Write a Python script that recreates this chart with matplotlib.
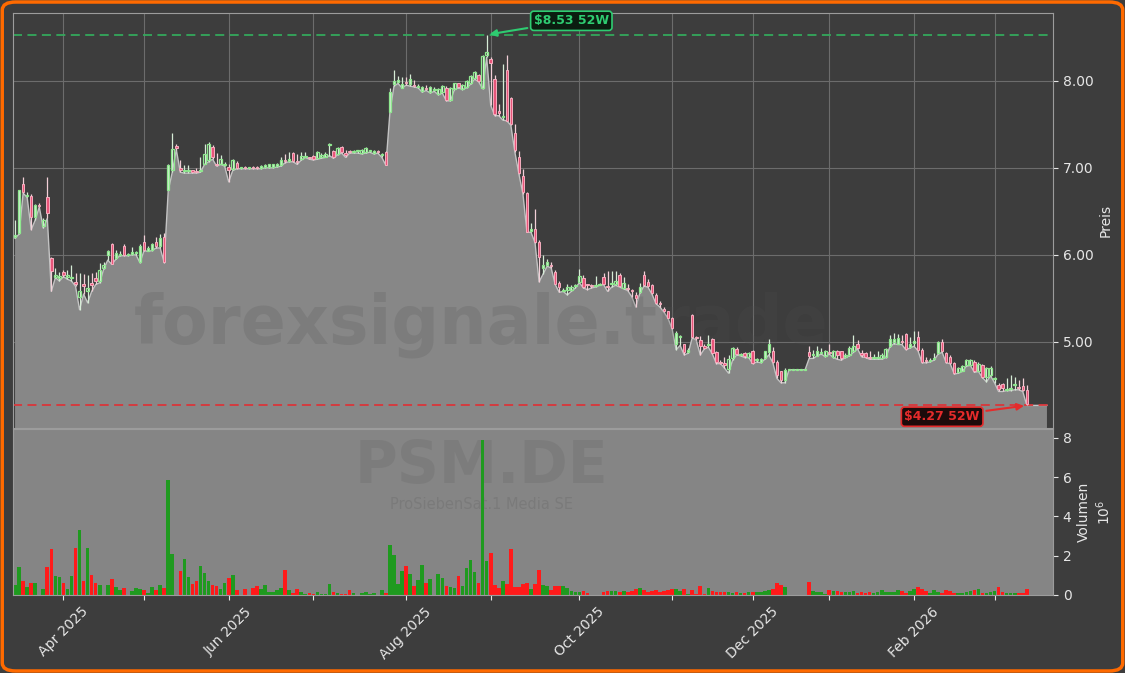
import numpy as np
import pandas as pd
import matplotlib
matplotlib.use('Agg')
import matplotlib.pyplot as plt
from matplotlib.patches import FancyBboxPatch
from matplotlib.ticker import FormatStrFormatter

ticker = 'PSM.DE'
company = 'ProSiebenSat.1 Media SE'
site = 'forexsignale.trade'

# Xetra trading days, Mar 14 2025 .. Mar 12 2026
holidays = ['2025-04-18', '2025-04-21', '2025-05-01', '2025-12-24',
            '2025-12-25', '2025-12-26', '2025-12-31', '2026-01-01']
days = pd.bdate_range('2025-03-14', '2026-03-12')
days = days[~days.isin(pd.to_datetime(holidays))]

opens = [
    6.20, 6.25, 6.82, 6.68, 6.68, 6.44, 6.57, 6.33, 6.66, 5.96,
    5.75, 5.73, 5.80, 5.75, 5.73, 5.69, 5.52, 5.67, 5.58, 5.68,
    5.73, 5.70, 5.85, 6.00, 6.12, 5.96, 6.00, 6.10, 6.00, 6.01,
    6.02, 5.92, 6.15, 6.05, 6.06, 6.15, 6.10, 6.21, 6.74, 6.97,
    7.25, 7.00, 6.96, 6.96, 6.97, 6.96, 6.96, 7.05, 7.09, 7.24,
    7.05, 7.05, 7.03, 7.01, 6.99, 7.06, 7.00, 7.01, 7.00, 7.01,
    7.01, 7.00, 7.01, 7.01, 7.01, 7.02, 7.03, 7.09, 7.08, 7.17,
    7.08, 7.10, 7.13, 7.12, 7.14, 7.11, 7.12, 7.13, 7.26, 7.19,
    7.16, 7.24, 7.17, 7.19, 7.18, 7.19, 7.17, 7.18, 7.19, 7.17,
    7.19, 7.15, 7.18, 7.64, 7.96, 7.99, 7.92, 7.99, 7.96, 7.95,
    7.93, 7.88, 7.92, 7.87, 7.90, 7.85, 7.87, 7.92, 7.78, 7.91,
    7.97, 7.91, 7.93, 7.97, 8.03, 8.07, 7.92, 8.30, 8.25, 8.02,
    7.65, 7.58, 8.13, 7.80, 7.40, 7.13, 6.91, 6.71, 6.28, 6.30,
    6.15, 5.85, 5.88, 5.88, 5.80, 5.68, 5.59, 5.60, 5.60, 5.64,
    5.69, 5.73, 5.66, 5.65, 5.64, 5.65, 5.75, 5.64, 5.66, 5.66,
    5.77, 5.62, 5.62, 5.59, 5.54, 5.57, 5.77, 5.69, 5.65, 5.54,
    5.44, 5.38, 5.35, 5.27, 4.97, 5.06, 4.97, 4.88, 5.31, 5.05,
    5.02, 4.95, 4.96, 5.03, 4.88, 4.77, 4.76, 4.69, 4.81, 4.92,
    4.85, 4.87, 4.83, 4.90, 4.79, 4.77, 4.82, 4.88, 4.89, 4.77,
    4.66, 4.56, 4.68, 4.68, 4.68, 4.68, 4.68, 4.88, 4.85, 4.84,
    4.87, 4.84, 4.88, 4.83, 4.89, 4.89, 4.83, 4.85, 4.89, 4.98,
    4.87, 4.87, 4.83, 4.81, 4.82, 4.81, 4.83, 4.95, 5.00, 4.98,
    5.01, 5.09, 4.94, 4.99, 5.06, 4.91, 4.79, 4.78, 4.80, 4.87,
    5.00, 4.87, 4.83, 4.76, 4.65, 4.67, 4.74, 4.74, 4.77, 4.67,
    4.74, 4.60, 4.62, 4.57, 4.51, 4.52, 4.45, 4.46, 4.50, 4.48,
    4.49, 4.45,
]
highs = [
    6.40, 6.75, 6.89, 6.72, 6.70, 6.59, 6.60, 6.42, 6.89, 5.97,
    5.85, 5.80, 5.83, 5.83, 5.88, 5.79, 5.79, 5.78, 5.77, 5.79,
    5.80, 5.91, 5.92, 6.06, 6.14, 6.06, 6.05, 6.12, 6.02, 6.09,
    6.04, 6.12, 6.23, 6.10, 6.14, 6.20, 6.24, 6.25, 7.05, 7.40,
    7.28, 7.09, 7.03, 7.03, 6.98, 7.00, 7.13, 7.28, 7.30, 7.26,
    7.17, 7.15, 7.07, 7.05, 7.10, 7.08, 7.01, 7.02, 7.01, 7.02,
    7.02, 7.03, 7.04, 7.05, 7.05, 7.06, 7.12, 7.16, 7.18, 7.18,
    7.16, 7.18, 7.18, 7.13, 7.15, 7.19, 7.17, 7.18, 7.29, 7.21,
    7.24, 7.25, 7.20, 7.20, 7.20, 7.20, 7.22, 7.24, 7.20, 7.20,
    7.20, 7.17, 7.19, 7.92, 8.13, 8.06, 8.04, 8.04, 8.08, 8.01,
    7.96, 7.94, 7.95, 7.94, 7.93, 7.92, 7.95, 7.94, 7.93, 7.98,
    7.98, 7.96, 8.01, 8.07, 8.11, 8.08, 8.30, 8.53, 8.27, 8.07,
    7.73, 8.19, 8.30, 7.82, 7.50, 7.19, 6.99, 6.72, 6.37, 6.53,
    6.17, 6.00, 5.95, 5.92, 5.83, 5.70, 5.62, 5.66, 5.65, 5.67,
    5.84, 5.77, 5.67, 5.67, 5.76, 5.68, 5.79, 5.82, 5.82, 5.81,
    5.79, 5.75, 5.67, 5.61, 5.57, 5.68, 5.81, 5.72, 5.67, 5.56,
    5.47, 5.40, 5.36, 5.29, 5.12, 5.08, 4.98, 4.93, 5.32, 5.07,
    5.07, 4.98, 5.08, 5.05, 4.90, 4.79, 4.83, 4.85, 4.94, 4.94,
    4.87, 4.88, 4.88, 4.91, 4.82, 4.81, 4.90, 5.03, 4.94, 4.79,
    4.67, 4.70, 4.68, 4.68, 4.68, 4.68, 4.68, 4.95, 4.91, 4.95,
    4.93, 4.91, 4.98, 4.91, 4.91, 4.90, 4.87, 4.95, 5.08, 5.02,
    4.91, 4.88, 4.89, 4.86, 4.89, 4.87, 4.93, 5.08, 5.10, 5.09,
    5.08, 5.10, 5.06, 5.12, 5.12, 4.93, 4.83, 4.81, 4.87, 5.01,
    5.03, 4.88, 4.85, 4.77, 4.71, 4.73, 4.80, 4.80, 4.79, 4.77,
    4.75, 4.71, 4.72, 4.60, 4.53, 4.53, 4.59, 4.62, 4.60, 4.56,
    4.58, 4.50,
]
lows = [
    6.19, 6.24, 6.71, 6.66, 6.29, 6.40, 6.55, 6.31, 6.42, 5.58,
    5.74, 5.70, 5.75, 5.72, 5.70, 5.64, 5.37, 5.55, 5.45, 5.58,
    5.66, 5.68, 5.84, 5.94, 5.89, 5.95, 5.99, 5.99, 5.99, 6.00,
    6.00, 5.91, 6.05, 6.04, 6.05, 6.08, 6.08, 5.91, 6.74, 6.95,
    7.21, 6.95, 6.94, 6.94, 6.94, 6.94, 6.95, 7.04, 7.07, 7.10,
    7.02, 7.04, 7.02, 6.84, 6.97, 6.99, 6.99, 6.99, 6.99, 6.99,
    6.99, 6.99, 7.00, 7.00, 7.00, 7.01, 7.02, 7.06, 7.07, 7.07,
    7.04, 7.09, 7.12, 7.10, 7.09, 7.10, 7.11, 7.12, 7.14, 7.11,
    7.15, 7.17, 7.12, 7.17, 7.17, 7.17, 7.16, 7.17, 7.18, 7.16,
    7.17, 7.12, 7.03, 7.64, 7.94, 7.97, 7.92, 7.95, 7.94, 7.93,
    7.92, 7.87, 7.89, 7.86, 7.88, 7.84, 7.86, 7.77, 7.77, 7.90,
    7.92, 7.90, 7.92, 7.96, 8.02, 7.99, 7.91, 8.27, 7.72, 7.60,
    7.60, 7.55, 7.54, 7.49, 7.18, 6.93, 6.70, 6.26, 6.26, 6.14,
    5.69, 5.78, 5.87, 5.85, 5.66, 5.57, 5.58, 5.54, 5.58, 5.62,
    5.68, 5.62, 5.60, 5.62, 5.63, 5.65, 5.66, 5.58, 5.63, 5.65,
    5.63, 5.61, 5.59, 5.52, 5.40, 5.56, 5.64, 5.63, 5.55, 5.44,
    5.40, 5.34, 5.27, 5.15, 4.91, 4.96, 4.85, 4.87, 5.05, 5.02,
    4.85, 4.92, 4.94, 4.86, 4.75, 4.75, 4.70, 4.64, 4.79, 4.85,
    4.84, 4.82, 4.82, 4.75, 4.77, 4.76, 4.80, 4.85, 4.76, 4.58,
    4.53, 4.53, 4.68, 4.68, 4.68, 4.68, 4.68, 4.81, 4.81, 4.84,
    4.86, 4.83, 4.86, 4.82, 4.80, 4.79, 4.82, 4.84, 4.88, 4.92,
    4.83, 4.82, 4.80, 4.80, 4.80, 4.80, 4.82, 4.94, 4.98, 4.97,
    4.97, 4.91, 4.93, 4.95, 4.90, 4.76, 4.76, 4.77, 4.79, 4.86,
    4.88, 4.76, 4.75, 4.63, 4.64, 4.66, 4.72, 4.73, 4.65, 4.66,
    4.59, 4.54, 4.61, 4.53, 4.43, 4.43, 4.44, 4.44, 4.45, 4.45,
    4.43, 4.27,
]
closes = [
    6.23, 6.74, 6.72, 6.69, 6.43, 6.57, 6.56, 6.40, 6.48, 5.82,
    5.77, 5.76, 5.77, 5.77, 5.74, 5.66, 5.58, 5.64, 5.62, 5.65,
    5.70, 5.83, 5.88, 6.05, 5.90, 6.02, 6.01, 6.00, 6.00, 6.03,
    6.03, 6.10, 6.06, 6.08, 6.12, 6.10, 6.19, 5.92, 7.03, 7.22,
    7.23, 6.97, 6.98, 6.97, 6.95, 6.95, 6.98, 7.16, 7.28, 7.13,
    7.03, 7.10, 7.04, 6.97, 7.09, 7.00, 7.00, 7.00, 7.00, 7.00,
    7.00, 7.02, 7.03, 7.04, 7.04, 7.05, 7.09, 7.08, 7.10, 7.08,
    7.07, 7.14, 7.14, 7.11, 7.10, 7.18, 7.15, 7.16, 7.27, 7.12,
    7.23, 7.18, 7.15, 7.18, 7.19, 7.19, 7.21, 7.23, 7.20, 7.19,
    7.18, 7.16, 7.03, 7.87, 8.00, 8.01, 7.96, 7.97, 8.02, 7.94,
    7.94, 7.93, 7.91, 7.93, 7.91, 7.91, 7.94, 7.78, 7.92, 7.97,
    7.93, 7.95, 8.00, 8.06, 8.10, 8.00, 8.29, 8.33, 8.21, 7.62,
    7.63, 7.60, 7.54, 7.50, 7.20, 6.94, 6.72, 6.26, 6.30, 6.15,
    5.98, 5.88, 5.92, 5.87, 5.67, 5.63, 5.60, 5.63, 5.63, 5.65,
    5.76, 5.63, 5.65, 5.64, 5.65, 5.66, 5.67, 5.63, 5.67, 5.70,
    5.64, 5.68, 5.61, 5.58, 5.50, 5.63, 5.65, 5.64, 5.56, 5.45,
    5.43, 5.35, 5.28, 5.16, 5.10, 5.07, 4.88, 4.91, 5.06, 5.04,
    4.95, 4.93, 4.98, 4.87, 4.77, 4.76, 4.74, 4.80, 4.93, 4.86,
    4.86, 4.84, 4.87, 4.76, 4.80, 4.80, 4.89, 4.98, 4.77, 4.62,
    4.56, 4.68, 4.68, 4.68, 4.68, 4.68, 4.68, 4.84, 4.86, 4.89,
    4.88, 4.89, 4.87, 4.89, 4.85, 4.81, 4.85, 4.93, 4.95, 4.93,
    4.85, 4.83, 4.82, 4.83, 4.83, 4.85, 4.92, 5.03, 5.03, 5.04,
    5.00, 4.92, 4.98, 5.01, 4.91, 4.77, 4.78, 4.79, 4.82, 5.00,
    4.89, 4.77, 4.76, 4.64, 4.70, 4.72, 4.79, 4.79, 4.66, 4.75,
    4.60, 4.70, 4.70, 4.58, 4.46, 4.47, 4.46, 4.47, 4.52, 4.47,
    4.45, 4.29,
]
# volume in millions of shares
volumes = [
    0.49, 1.43, 0.70, 0.38, 0.59, 0.59, 0.00, 0.28, 1.40, 2.34,
    0.96, 0.91, 0.59, 0.28, 0.96, 2.37, 3.32, 0.70, 2.37, 1.01,
    0.59, 0.49, 0.00, 0.49, 0.80, 0.42, 0.24, 0.33, 0.00, 0.21,
    0.33, 0.28, 0.23, 0.10, 0.38, 0.23, 0.49, 0.33, 5.83, 2.09,
    0.00, 1.22, 1.85, 0.91, 0.54, 0.70, 1.48, 1.12, 0.70, 0.49,
    0.44, 0.28, 0.59, 0.86, 1.01, 0.23, 0.00, 0.28, 0.00, 0.33,
    0.44, 0.28, 0.49, 0.17, 0.17, 0.23, 0.33, 1.27, 0.23, 0.12,
    0.28, 0.17, 0.07, 0.12, 0.07, 0.17, 0.03, 0.07, 0.54, 0.17,
    0.12, 0.07, 0.07, 0.23, 0.12, 0.00, 0.12, 0.17, 0.07, 0.12,
    0.00, 0.23, 0.12, 2.53, 2.01, 0.54, 1.22, 1.48, 1.06, 0.44,
    0.75, 1.54, 0.59, 0.80, 0.00, 1.06, 0.87, 0.44, 0.38, 0.35,
    0.96, 0.44, 1.38, 1.80, 1.17, 0.59, 7.87, 1.75, 2.16, 0.49,
    0.33, 0.70, 0.54, 2.32, 0.38, 0.38, 0.54, 0.59, 0.28, 0.54,
    1.27, 0.50, 0.45, 0.26, 0.47, 0.47, 0.47, 0.33, 0.20, 0.15,
    0.17, 0.20, 0.12, 0.00, 0.00, 0.00, 0.17, 0.20, 0.20, 0.20,
    0.14, 0.20, 0.17, 0.20, 0.28, 0.34, 0.26, 0.17, 0.20, 0.24,
    0.14, 0.20, 0.24, 0.31, 0.28, 0.20, 0.29, 0.05, 0.24, 0.05,
    0.47, 0.05, 0.34, 0.20, 0.17, 0.17, 0.14, 0.14, 0.10, 0.16,
    0.10, 0.10, 0.14, 0.14, 0.17, 0.17, 0.20, 0.24, 0.29, 0.59,
    0.52, 0.38, 0.00, 0.00, 0.00, 0.00, 0.00, 0.67, 0.20, 0.14,
    0.14, 0.05, 0.24, 0.20, 0.20, 0.17, 0.17, 0.17, 0.20, 0.12,
    0.14, 0.12, 0.17, 0.12, 0.14, 0.24, 0.14, 0.17, 0.14, 0.24,
    0.20, 0.12, 0.20, 0.29, 0.38, 0.29, 0.20, 0.12, 0.24, 0.17,
    0.12, 0.24, 0.20, 0.10, 0.10, 0.10, 0.17, 0.20, 0.24, 0.29,
    0.12, 0.12, 0.17, 0.20, 0.41, 0.17, 0.12, 0.10, 0.10, 0.10,
    0.12, 0.29,
]

bg = '#3d3d3d'
area = '#878787'
txt = '#e6e6e6'
up_edge, dn_face, dn_edge = '#8fe88f', '#e8557a', '#f5aebf'

o = np.array(opens)
h = np.array(highs)
l = np.array(lows)
c = np.array(closes)
v = np.array(volumes)
n = len(days)
x = np.arange(n)
up = c >= o

# first trading day of each month, label every second month
months = days.to_period('M')
tick_pos = [i for i in range(1, n) if months[i] != months[i - 1]]
tick_lab = [days[i].strftime('%b %Y') if days[i].month % 2 == 0 else ''
            for i in tick_pos]

fig = plt.figure(figsize=(11.25, 6.73), dpi=100, facecolor=bg)
ax = fig.add_axes([0.0116, 0.364, 0.9244, 0.6167], facecolor=bg)
axv = fig.add_axes([0.0116, 0.116, 0.9244, 0.2465], facecolor='#858585')

# price panel: low line as grey area, candles on top
xf = np.arange(n + 5)
lf = np.r_[l, np.full(5, l[-1])]
ax.fill_between(xf, lf, 0, color=area, lw=0, zorder=1)
ax.plot(xf, lf, color='#c4c4c4', lw=1, zorder=1.5)

ax.vlines(x[up], l[up], h[up], colors='#d6ecd6', lw=0.9, zorder=3)
ax.vlines(x[~up], l[~up], h[~up], colors='#f2cfd7', lw=0.9, zorder=3)
body = np.maximum(np.abs(c - o), 0.012)
ax.bar(x[up], body[up], bottom=np.minimum(o, c)[up], width=0.62,
       facecolor='none', edgecolor=up_edge, lw=0.9, zorder=4)
ax.bar(x[~up], body[~up], bottom=np.minimum(o, c)[~up], width=0.62,
       facecolor=dn_face, edgecolor=dn_edge, lw=0.7, zorder=4)

hi, lo = h.max(), l.min()
hi_i, lo_i = int(h.argmax()), int(l.argmin())
ax.axhline(hi, color='#34a85c', ls=(0, (5, 3)), lw=1.3, zorder=2.5)
ax.axhline(lo, color='#d9363a', ls=(0, (5, 3)), lw=1.3, zorder=2.5)
ax.annotate(f'\\${hi:.2f} 52W', xy=(hi_i, hi), xytext=(138, 8.69),
            ha='center', va='center', fontsize=9, fontweight='bold', color='#2ecc71',
            bbox=dict(boxstyle='round,pad=0.25', fc='#0b1d10', ec='#2ecc71', lw=1.2),
            arrowprops=dict(arrowstyle='-|>', color='#2ecc71', lw=1.5, mutation_scale=10),
            zorder=6, annotation_clip=False)
ax.annotate(f'\\${lo:.2f} 52W', xy=(lo_i, lo), xytext=(230, 4.14),
            ha='center', va='center', fontsize=9, fontweight='bold', color='#e52b2b',
            bbox=dict(boxstyle='round,pad=0.25', fc='#1d0b0b', ec='#e52b2b', lw=1.2),
            arrowprops=dict(arrowstyle='-|>', color='#e52b2b', lw=1.5, mutation_scale=10),
            zorder=6, annotation_clip=False)

# watermarks
ax.text(0.428, 0.518, site, transform=fig.transFigure, fontsize=48, fontweight='bold',
        color='#505050', alpha=0.2, ha='center', va='center', zorder=2)
axv.text(0.428, 0.2823, ticker, transform=fig.transFigure, fontsize=42, fontweight='bold',
         color='#505050', alpha=0.16, ha='center', va='baseline', zorder=1)
axv.text(0.428, 0.262, company, transform=fig.transFigure, fontsize=10.5,
         color='#505050', alpha=0.2, ha='center', va='top', zorder=1)

ax.set_xlim(-0.5, n + 5.5)
ax.set_ylim(4.01, 8.78)
ax.set_xticks(tick_pos)
ax.tick_params(axis='x', length=0, labelbottom=False)
ax.set_yticks([5, 6, 7, 8])
ax.yaxis.set_major_formatter(FormatStrFormatter('%.2f'))
ax.yaxis.tick_right()
ax.yaxis.set_label_position('right')
ax.set_ylabel('Preis', color=txt, fontsize=10)
ax.grid(True, color='#6c6c6c', lw=0.8)
ax.set_axisbelow(True)

# volume panel
vcol = np.where(up, '#1f9a1f', '#ff1a1a')
axv.bar(x, v, width=0.9, color=vcol, zorder=2)
axv.set_xlim(-0.5, n + 5.5)
axv.set_ylim(0, 8.45)
axv.set_yticks([0, 2, 4, 6, 8])
axv.yaxis.tick_right()
axv.yaxis.set_label_position('right')
axv.set_ylabel('Volumen\n$10^6$', color=txt, fontsize=10)
axv.set_xticks(tick_pos)
axv.set_xticklabels(tick_lab, rotation=45)

for a in (ax, axv):
    a.tick_params(colors=txt, labelsize=10)
    for s in a.spines.values():
        s.set_color('#9c9c9c')

fig.patches.append(FancyBboxPatch((0.002, 0.003), 0.996, 0.994,
                                  boxstyle='round,pad=0,rounding_size=0.012',
                                  transform=fig.transFigure, fc='none',
                                  ec='#ff6a00', lw=2.5, zorder=10))

fig.savefig('out.png', dpi=100, facecolor=fig.get_facecolor())
